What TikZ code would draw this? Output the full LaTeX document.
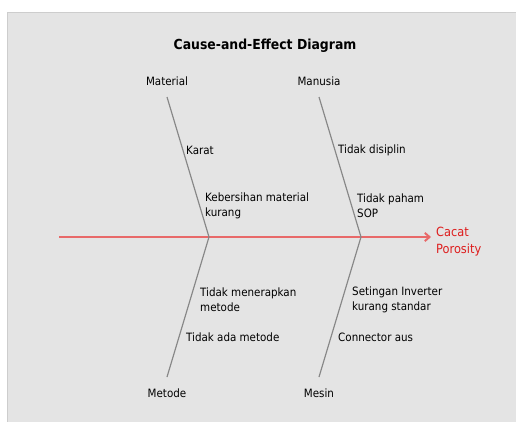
\documentclass[tikz,border=0pt]{standalone}
\usepackage{fontspec}
\setmainfont{DejaVu Sans Condensed}
\usetikzlibrary{arrows.meta}
\definecolor{panel}{RGB}{228,228,228}
\definecolor{panelline}{RGB}{205,205,205}
\definecolor{spine}{RGB}{232,105,105}
\definecolor{effred}{RGB}{222,30,30}
\definecolor{bonegray}{RGB}{135,135,135}

\begin{document}
\begin{tikzpicture}[x=0.03cm,y=-0.03cm,every node/.style={font=\fontsize{9.8}{12.8}\selectfont,inner sep=0pt},
  bone/.style={draw=bonegray,line width=1pt},cause/.style={anchor=west,align=left}]
\useasboundingbox (0,0) rectangle (516,421);
\fill[panel,draw=panelline] (7,12) rectangle (520,425);
\node[font=\bfseries\fontsize{11.8}{15}\selectfont] (title) at (265,46) {Cause-and-Effect Diagram};
% spine
\coordinate (tail) at (59,237); \coordinate (j1) at (209,237); \coordinate (j2) at (361,237);
\node[cause,text=effred,font=\fontsize{10.8}{14.5}\selectfont] (effect) at (436,242) {Cacat\\Porosity};
\draw[spine,line width=1.7pt,-{Straight Barb[length=4pt,width=7pt]},shorten >=5*0.03cm] (tail) -- (tail -| effect.west);
% categories
\node (mat) at (167,81) {Material}; \node (man) at (319,81) {Manusia};
\node (met) at (167,393) {Metode}; \node (mes) at (319,393) {Mesin};
\coordinate (matend) at (167,97); \coordinate (manend) at (319,97);
\coordinate (metend) at (167,377); \coordinate (mesend) at (319,377);
\draw[bone] (matend)--(j1); \draw[bone] (manend)--(j2);
\draw[bone] (metend)--(j1); \draw[bone] (mesend)--(j2);
% causes
\node[cause] (karat) at (186,150) {Karat};
\node[cause] (bersih) at (205,206) {Kebersihan material\\kurang};
\node[cause] (disiplin) at (338,150) {Tidak disiplin};
\node[cause] (sop) at (357,206) {Tidak paham\\SOP};
\node[cause] (terap) at (200,299.5) {Tidak menerapkan\\metode};
\node[cause] (ada) at (186,337) {Tidak ada metode};
\node[cause] (inverter) at (352,299.5) {Setingan Inverter\\kurang standar};
\node[cause] (aus) at (338,337) {Connector aus};
\end{tikzpicture}
\end{document}
